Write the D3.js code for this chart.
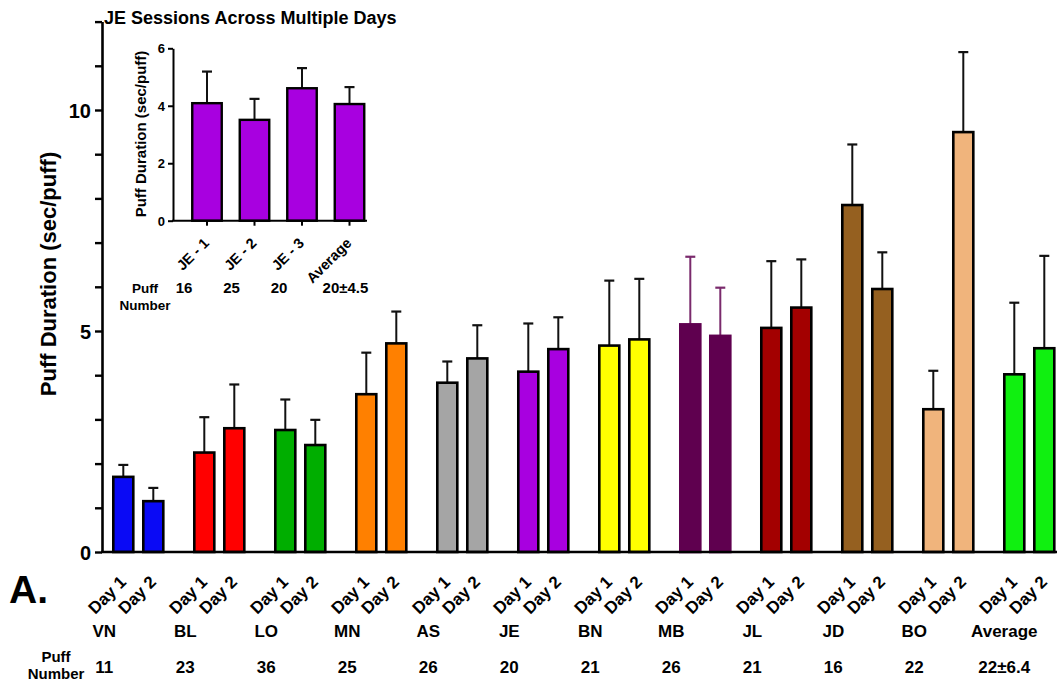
<!DOCTYPE html>
<html>
<head>
<meta charset="utf-8">
<script src="https://cdn.jsdelivr.net/npm/d3@7"></script>
<style>
  html, body { margin: 0; padding: 0; background: #fff; }
  svg { display: block; }
  text { font-family: "Liberation Sans", Arial, sans-serif; font-weight: bold; fill: #000; }
</style>
</head>
<body>
<svg id="chart" width="1057" height="688"></svg>
<script>
// Subjects and their two session days
const groups = ["VN", "BL", "LO", "MN", "AS", "JE", "BN", "MB", "JL", "JD", "BO", "Average"];
const days = ["Day 1", "Day 2"];
const puffNumbers = ["11", "23", "36", "25", "26", "20", "21", "26", "21", "16", "22", "22\u00b16.4"];

// Mean puff duration (sec/puff) and upper error (SD)
const day1Mean = [1.70, 2.25, 2.76, 3.57, 3.83, 4.08, 4.67, 5.15, 5.07, 7.85, 3.23, 4.02];
const day1Err  = [0.27, 0.80, 0.69, 0.94, 0.48, 1.09, 1.47, 1.53, 1.51, 1.37, 0.87, 1.62];
const day2Mean = [1.15, 2.80, 2.42, 4.72, 4.38, 4.59, 4.81, 4.89, 5.53, 5.95, 9.50, 4.61];
const day2Err  = [0.30, 0.99, 0.57, 0.72, 0.75, 0.72, 1.37, 1.09, 1.09, 0.83, 1.81, 2.09];

const groupColors = ["#0a0af5", "#ff0000", "#00ae00", "#ff8000", "#a5a5a5", "#a800e0",
                     "#ffff00", "#5f004f", "#a30000", "#956020", "#f0b47c", "#10f010"];

const yTicks = d3.range(0, 13);
const yLabelled = [0, 5, 10];

// Inset: JE sessions
const sessions = ["JE - 1", "JE - 2", "JE - 3", "Average"];
const sessionMean = [4.09, 3.51, 4.61, 4.06];
const sessionErr  = [1.10, 0.73, 0.70, 0.59];
const sessionPuffs = ["16", "25", "20", "20\u00b14.5"];
const insetTicks = [0, 2, 4, 6];
const insetColor = "#a800e0";

const svg = d3.select("#chart");
const FONT = "Liberation Sans, Arial, sans-serif";

// ---------- main chart ----------
const axisX = 102, baseY = 552;
const y = d3.scaleLinear().domain([0, 12]).range([baseY, baseY - 12 * 44.2]);
const x0 = d3.scaleBand().domain(groups).range([113.3, 1054.3]).paddingInner(31 / 81).paddingOuter(0);
const x1 = d3.scaleBand().domain(days).range([0, x0.bandwidth()]).paddingInner(1 / 3).paddingOuter(0);

const rows = [];
groups.forEach((g, i) => {
  rows.push({ g, i, day: "Day 1", mean: day1Mean[i], err: day1Err[i] });
  rows.push({ g, i, day: "Day 2", mean: day2Mean[i], err: day2Err[i] });
});
const barColor = d => groupColors[d.i];
const outline = d => d.g === "MB" ? groupColors[d.i] : "#000";
const errColor = d => d.g === "MB" ? "#7a2a6c" : "#111";

const main = svg.append("g");

// error bars (drawn first so the bar outline sits on top)
const eb = main.append("g").selectAll("g").data(rows).join("g")
  .attr("transform", d => `translate(${x0(d.g) + x1(d.day) + x1.bandwidth() / 2},0)`);
eb.append("line")
  .attr("y1", d => y(d.mean)).attr("y2", d => y(d.mean + d.err))
  .attr("stroke", errColor).attr("stroke-width", 2);
eb.append("line")
  .attr("x1", -5).attr("x2", 5)
  .attr("y1", d => y(d.mean + d.err)).attr("y2", d => y(d.mean + d.err))
  .attr("stroke", errColor).attr("stroke-width", 2.2);

main.append("g").selectAll("rect").data(rows).join("rect")
  .attr("x", d => x0(d.g) + x1(d.day))
  .attr("y", d => y(d.mean))
  .attr("width", x1.bandwidth())
  .attr("height", d => baseY - y(d.mean))
  .attr("fill", barColor)
  .attr("stroke", outline)
  .attr("stroke-width", 2.6);

// y axis
const yAxis = d3.axisLeft(y).tickValues(yTicks).tickSize(7).tickSizeOuter(0)
  .tickFormat(d => yLabelled.includes(d) ? d3.format("d")(d) : "");
const ya = main.append("g").attr("transform", `translate(${axisX},0)`).call(yAxis);
ya.select(".domain").attr("stroke", "#000").attr("stroke-width", 2.6);
ya.selectAll(".tick line").attr("stroke", "#000").attr("stroke-width", 2.4);
ya.selectAll(".tick text").attr("x", -11).attr("dy", "0.36em")
  .style("font-size", "20px").style("font-family", FONT).style("font-weight", "bold");

// baseline
main.append("line").attr("x1", axisX - 1).attr("x2", 1057).attr("y1", baseY).attr("y2", baseY)
  .attr("stroke", "#000").attr("stroke-width", 2.6);

// y title
main.append("text")
  .attr("transform", `translate(56,${274}) rotate(-90)`)
  .attr("text-anchor", "middle").style("font-size", "22px")
  .text("Puff Duration (sec/puff)");

// day labels, rotated and ending under each bar
main.append("g").selectAll("text").data(rows).join("text")
  .attr("transform", d => `translate(${x0(d.g) + x1(d.day) + x1.bandwidth() / 2 + 4},583) rotate(-45)`)
  .attr("text-anchor", "end").style("font-size", "17px")
  .text(d => d.day);

// subject names and puff numbers
const labelX = (g, i) => x0(g) + x1("Day 1") + x1.bandwidth() / 2 - (i === groups.length - 1 ? 10 : 19);
main.append("g").selectAll("text").data(groups).join("text")
  .attr("x", (g, i) => labelX(g, i)).attr("y", 637)
  .attr("text-anchor", "middle").style("font-size", "17px")
  .text(g => g);
main.append("g").selectAll("text").data(puffNumbers).join("text")
  .attr("x", (p, i) => labelX(groups[i], i)).attr("y", 673)
  .attr("text-anchor", "middle").style("font-size", "17px")
  .text(p => p);
main.append("text").attr("x", 56).attr("y", 662).attr("text-anchor", "middle")
  .style("font-size", "15px").text("Puff");
main.append("text").attr("x", 56).attr("y", 679).attr("text-anchor", "middle")
  .style("font-size", "15px").text("Number");

// panel letter
main.append("text").attr("x", 9).attr("y", 603).style("font-size", "39px").text("A.");

// ---------- inset ----------
const inset = svg.append("g");
const iAxisX = 173, iBase = 220.7;
const yi = d3.scaleLinear().domain([0, 6]).range([iBase, 48.3]);
const xi = d3.scaleBand().domain(sessions).range([192.25, 364.25]).paddingInner(0.379).paddingOuter(0);

inset.append("text").attr("x", 104).attr("y", 24).style("font-size", "18px")
  .text("JE Sessions Across Multiple Days");

const iRows = sessions.map((s, i) => ({ s, i, mean: sessionMean[i], err: sessionErr[i] }));
const ieb = inset.append("g").selectAll("g").data(iRows).join("g")
  .attr("transform", d => `translate(${xi(d.s) + xi.bandwidth() / 2},0)`);
ieb.append("line").attr("y1", d => yi(d.mean)).attr("y2", d => yi(d.mean + d.err))
  .attr("stroke", "#111").attr("stroke-width", 2);
ieb.append("line").attr("x1", -5).attr("x2", 5)
  .attr("y1", d => yi(d.mean + d.err)).attr("y2", d => yi(d.mean + d.err))
  .attr("stroke", "#111").attr("stroke-width", 2.2);

inset.append("g").selectAll("rect").data(iRows).join("rect")
  .attr("x", d => xi(d.s)).attr("y", d => yi(d.mean))
  .attr("width", xi.bandwidth()).attr("height", d => iBase - yi(d.mean))
  .attr("fill", insetColor).attr("stroke", "#000").attr("stroke-width", 2.4);

const yiAxis = d3.axisLeft(yi).tickValues(insetTicks).tickSize(5).tickSizeOuter(0)
  .tickFormat(d3.format("d"));
const yia = inset.append("g").attr("transform", `translate(${iAxisX},0)`).call(yiAxis);
yia.select(".domain").attr("stroke", "#000").attr("stroke-width", 2);
yia.selectAll(".tick line").attr("stroke", "#000").attr("stroke-width", 2);
yia.selectAll(".tick text").attr("x", -8).attr("dy", "0.36em")
  .style("font-size", "13px").style("font-family", FONT).style("font-weight", "bold");

const xiAxis = d3.axisBottom(xi).tickSize(5).tickSizeOuter(0).tickFormat("");
const xia = inset.append("g").attr("transform", `translate(0,${iBase})`).call(xiAxis);
xia.select(".domain").remove();
xia.selectAll(".tick line").attr("stroke", "#000").attr("stroke-width", 2);
inset.append("line").attr("x1", iAxisX - 1).attr("x2", 367).attr("y1", iBase).attr("y2", iBase)
  .attr("stroke", "#000").attr("stroke-width", 2);

inset.append("text")
  .attr("transform", `translate(146,134) rotate(-90)`)
  .attr("text-anchor", "middle").style("font-size", "15px")
  .text("Puff Duration (sec/puff)");

inset.append("g").selectAll("text").data(sessions).join("text")
  .attr("transform", s => `translate(${xi(s) + xi.bandwidth() / 2 + 3},244) rotate(-45)`)
  .attr("text-anchor", "end").style("font-size", "14.5px")
  .text(s => s);

inset.append("g").selectAll("text").data(sessionPuffs).join("text")
  .attr("x", (p, i) => xi(sessions[i]) + xi.bandwidth() / 2 - (i === sessions.length - 1 ? 4 : 23))
  .attr("y", 293).attr("text-anchor", "middle").style("font-size", "15px")
  .text(p => p);
inset.append("text").attr("x", 145).attr("y", 293).attr("text-anchor", "middle")
  .style("font-size", "13.5px").text("Puff");
inset.append("text").attr("x", 145).attr("y", 310).attr("text-anchor", "middle")
  .style("font-size", "13.5px").text("Number");
</script>
</body>
</html>
